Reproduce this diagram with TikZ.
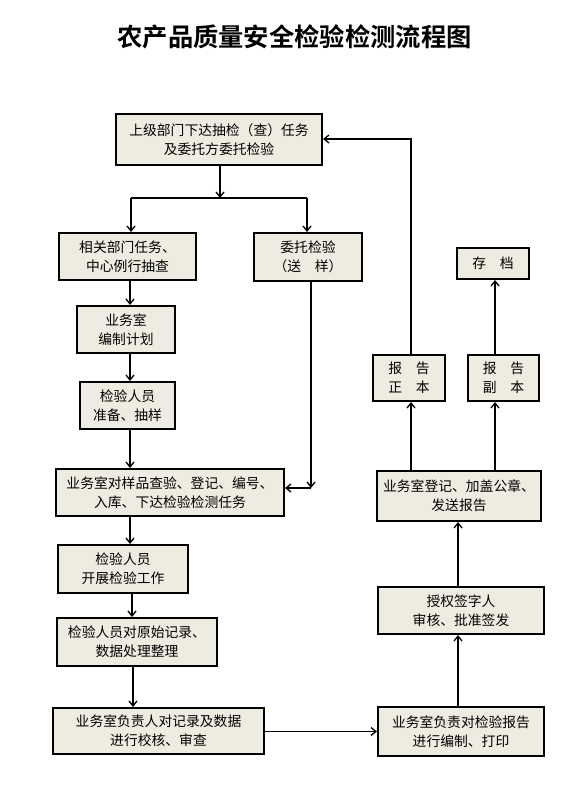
\documentclass[tikz,border=0pt]{standalone}
\usepackage{fontspec}
\setmainfont{Noto Sans CJK SC}
\newfontfamily\titlefont{Noto Sans CJK SC Bold}
\usetikzlibrary{arrows.meta}
\definecolor{boxfill}{HTML}{EEECE1}
\tikzset{
  box/.style={draw=black, line width=2bp, fill=boxfill, align=center,
    inner sep=0pt, font=\fontsize{13.8bp}{19bp}\selectfont},
  arr/.style={line width=1.6bp, -{Straight Barb[length=5bp,width=8bp,line width=1.3bp]}},
  ln/.style={line width=1.6bp}
}
\newcommand{\bx}[6]{\node[box, minimum width=#4bp, minimum height=#5bp] (#1) at (#2,#3) {#6};}
\begin{document}
\begin{tikzpicture}[x=1bp,y=-1bp]
\useasboundingbox (0,0) rectangle (582,793);
\node[font=\titlefont\fontsize{25.3bp}{28bp}\selectfont] (title) at (294.5,37) {农产品质量安全检验检测流程图};

\bx{b1}{219}{139.5}{206}{51}{上级部门下达抽检（查）任务\\及委托方委托检验}
\bx{b2}{127.5}{256.5}{137}{47}{相关部门任务、\\中心例行抽查}
\bx{b3}{308}{257}{108}{48}{委托检验\\（送　样）}
\bx{b4}{126}{329.5}{98}{47}{业务室\\编制计划}
\bx{b5}{127.5}{405.5}{95}{47}{检验人员\\准备、抽样}
\bx{b6}{170}{492.5}{228}{47}{业务室对样品查验、登记、编号、\\入库、下达检验检测任务}
\bx{b7}{123}{569}{130}{48}{检验人员\\开展检验工作}
\bx{b8}{137}{642}{160}{48}{检验人员对原始记录、\\数据处理整理}
\bx{b9}{158.5}{731}{211}{46}{业务室负责人对记录及数据\\进行校核、审查}
\bx{b10}{461}{731.5}{166}{49}{业务室负责对检验报告\\进行编制、打印}
\bx{b11}{461}{610.5}{166}{47}{授权签字人\\审核、批准签发}
\bx{b12}{459}{496}{164}{50}{业务室登记、加盖公章、\\发送报告}
\bx{b13}{409}{378}{72}{46}{报　告\\正　本}
\bx{b14}{503.5}{378}{71}{46}{报　告\\副　本}
\bx{b15}{493}{263.5}{72}{31}{存　档}

% helper coordinates
\coordinate (split) at (220,198);
\coordinate (sl) at (131,198);
\coordinate (sr) at (307,198);
\coordinate (xa) at (130,0);
\coordinate (xb) at (132,0);
\coordinate (xc) at (133,0);
\coordinate (xd) at (311,0);
\coordinate (joinA) at (311,488);
\coordinate (xe) at (411,0);
\coordinate (xf) at (495,0);
\coordinate (xg) at (458,0);
\coordinate (turn) at (411,139);

\draw[arr] (b1.south -| split) -- (split);
\draw[ln] (sl) -- (sr);
\draw[arr] (sl) -- (b2.north -| sl);
\draw[arr] (sr) -- (b3.north -| sr);
\draw[arr] (b2.south -| xa) -- (b4.north -| xa);
\draw[arr] (b4.south -| xa) -- (b5.north -| xa);
\draw[arr] (b5.south -| xa) -- (b6.north -| xa);
\draw[arr] (b3.south -| xd) -- (joinA);
\draw[arr] (joinA) -- (joinA -| b6.east);
\draw[arr] (b6.south -| xa) -- (b7.north -| xa);
\draw[arr] (b7.south -| xb) -- (b8.north -| xb);
\draw[arr] (b8.south -| xc) -- (b9.north -| xc);
\draw[arr] (b9.east |- b10.west) -- (b10.west);
\draw[arr] (b10.north -| xg) -- (b11.south -| xg);
\draw[arr] (b11.north -| xg) -- (b12.south -| xg);
\draw[arr] (b12.north -| xe) -- (b13.south -| xe);
\draw[arr] (b12.north -| xf) -- (b14.south -| xf);
\draw[arr] (b14.north -| xf) -- (b15.south -| xf);
\draw[arr] (b13.north -| xe) -- (turn) -- (turn -| b1.east);
\end{tikzpicture}
\end{document}
